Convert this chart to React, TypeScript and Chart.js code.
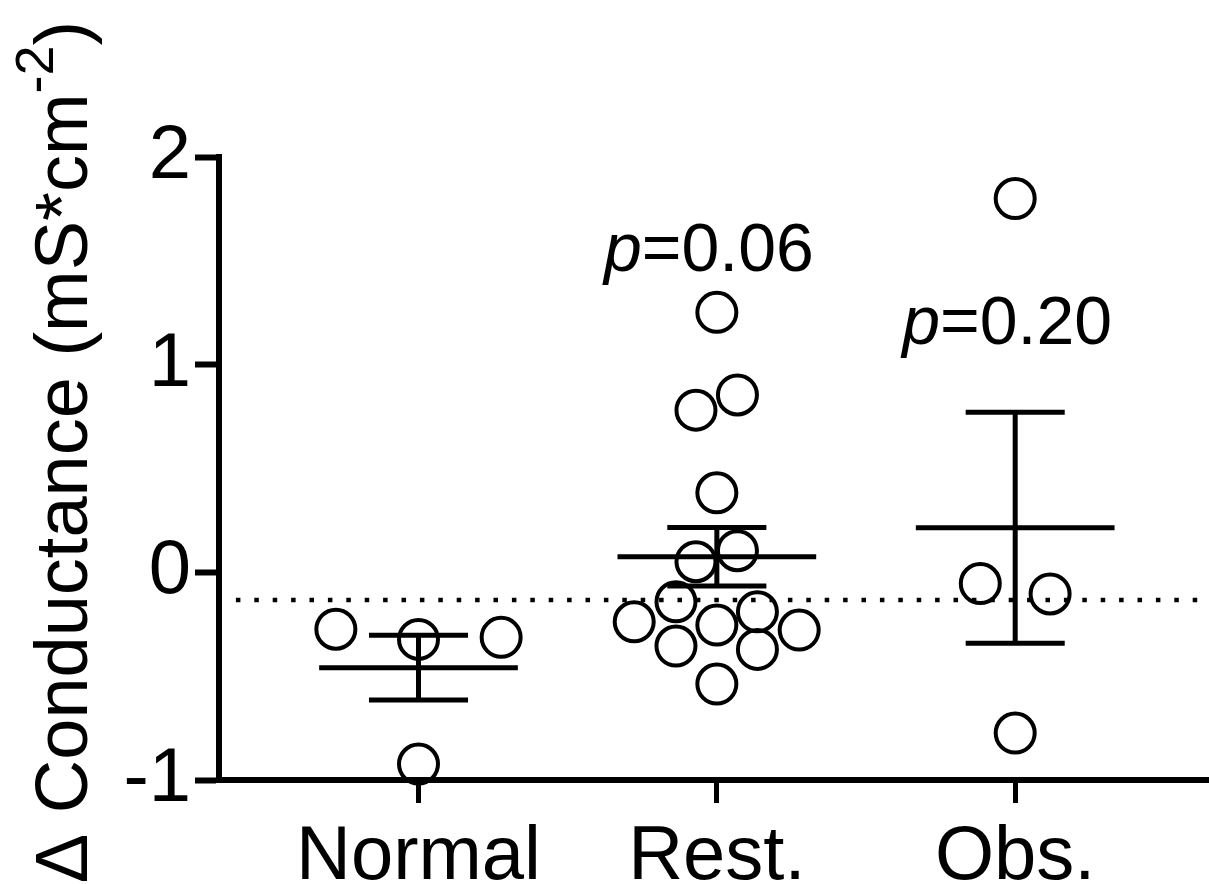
import React, { useEffect, useRef } from 'react';
import { Chart, registerables } from 'chart.js';

Chart.register(...registerables);

// ---- data ----
const categories = ['Normal', 'Rest.', 'Obs.'];
const normalValues = [-0.274, -0.323, -0.313, -0.923];
const normalJitter = [-0.277, 0, 0.277, 0];
const restValues = [1.252, 0.781, 0.854, 0.383, 0.104, 0.051, -0.142, -0.238, -0.254, -0.19, -0.278, -0.355, -0.371, -0.538];
const restJitter = [0, -0.07, 0.069, 0, 0.069, -0.07, -0.137, -0.277, 0, 0.136, 0.276, -0.137, 0.136, 0];
const obsValues = [1.8, -0.054, -0.104, -0.774];
const obsJitter = [0, -0.117, 0.117, 0];
const groupMeans = [-0.459, 0.075, 0.215];
const groupSEM = [0.156, 0.141, 0.556];
const pValues = ['', '0.06', '0.20'];
const pLabelLevels = [0, 1.452, 1.101];
const referenceLevel = -0.133;
const yTickValues = [-1, 0, 1, 2];
const yTitleMain = 'Δ Conductance (mS*cm';
const yTitleSup = '-2';
const yTitleEnd = ')';

const FONT = '"Liberation Sans", Arial, Helvetica, sans-serif';

const toPoints = (vals: number[], jit: number[], idx: number) =>
  vals.map((v, i) => ({ x: idx + jit[i], y: v }));

const decorPlugin = {
  id: 'decor',
  beforeDatasetsDraw(chart: any) {
    const { ctx, scales } = chart;
    const xs = scales.x;
    const ys = scales.y;
    // dotted reference line
    ctx.save();
    ctx.strokeStyle = '#000';
    ctx.lineWidth = 4.5;
    ctx.setLineDash([4.5, 13.9]);
    const yp = ys.getPixelForValue(referenceLevel);
    ctx.beginPath();
    ctx.moveTo(xs.getPixelForValue(-0.612), yp);
    ctx.lineTo(xs.getPixelForValue(xs.max) - 6, yp);
    ctx.stroke();
    ctx.restore();
  },
  afterDatasetsDraw(chart: any) {
    const { ctx, scales } = chart;
    const xs = scales.x;
    const ys = scales.y;
    ctx.save();
    ctx.strokeStyle = '#000';
    ctx.lineWidth = 5;
    ctx.lineCap = 'butt';
    groupMeans.forEach((m, i) => {
      const s = groupSEM[i];
      const cx = xs.getPixelForValue(i);
      const yMean = ys.getPixelForValue(m);
      const yHi = ys.getPixelForValue(m + s);
      const yLo = ys.getPixelForValue(m - s);
      ctx.beginPath();
      ctx.moveTo(xs.getPixelForValue(i - 0.333), yMean);
      ctx.lineTo(xs.getPixelForValue(i + 0.333), yMean);
      ctx.moveTo(cx, yHi);
      ctx.lineTo(cx, yLo);
      ctx.moveTo(xs.getPixelForValue(i - 0.166), yHi);
      ctx.lineTo(xs.getPixelForValue(i + 0.166), yHi);
      ctx.moveTo(xs.getPixelForValue(i - 0.166), yLo);
      ctx.lineTo(xs.getPixelForValue(i + 0.166), yLo);
      ctx.stroke();
    });
    // p-value annotations
    ctx.fillStyle = '#000';
    ctx.textBaseline = 'alphabetic';
    ctx.textAlign = 'left';
    pValues.forEach((pv, i) => {
      if (!pv) return;
      const italic = `italic 68px ${FONT}`;
      const normal = `68px ${FONT}`;
      ctx.font = italic;
      const wp = ctx.measureText('p').width;
      ctx.font = normal;
      const rest = '=' + pv;
      const wr = ctx.measureText(rest).width;
      const total = wp + wr;
      const cx = xs.getPixelForValue(i) - 8;
      const y = ys.getPixelForValue(pLabelLevels[i]);
      const x0 = cx - total / 2;
      ctx.font = italic;
      ctx.fillText('p', x0, y);
      ctx.font = normal;
      ctx.fillText(rest, x0 + wp, y);
    });
    ctx.restore();
  },
  afterDraw(chart: any) {
    const { ctx } = chart;
    ctx.save();
    ctx.fillStyle = '#000';
    ctx.textBaseline = 'alphabetic';
    ctx.textAlign = 'left';
    const mainFont = `74px ${FONT}`;
    const supFont = `54px ${FONT}`;
    ctx.font = mainFont;
    const wMain = ctx.measureText(yTitleMain).width;
    const wEnd = ctx.measureText(yTitleEnd).width;
    ctx.font = supFont;
    const wSup = ctx.measureText(yTitleSup).width;
    const total = wMain + wSup + wEnd;
    ctx.translate(87, 452);
    ctx.rotate(-Math.PI / 2);
    const x0 = -total / 2;
    ctx.font = mainFont;
    ctx.fillText(yTitleMain, x0, 0);
    ctx.font = supFont;
    ctx.fillText(yTitleSup, x0 + wMain, -34);
    ctx.font = mainFont;
    ctx.fillText(yTitleEnd, x0 + wMain + wSup, 0);
    ctx.restore();
  },
};

export default function App() {
  const ref = useRef<HTMLCanvasElement | null>(null);

  useEffect(() => {
    if (!ref.current) return;
    const pointStyle = {
      pointRadius: 19.5,
      pointHoverRadius: 19.5,
      pointBorderWidth: 4,
      pointBackgroundColor: 'rgba(0,0,0,0)',
      pointBorderColor: '#000',
      showLine: false,
      clip: false as any,
    };
    const chart = new Chart(ref.current, {
      type: 'scatter',
      data: {
        datasets: [
          { label: categories[0], data: toPoints(normalValues, normalJitter, 0), ...pointStyle },
          { label: categories[1], data: toPoints(restValues, restJitter, 1), ...pointStyle },
          { label: categories[2], data: toPoints(obsValues, obsJitter, 2), ...pointStyle },
        ],
      },
      options: {
        responsive: false,
        devicePixelRatio: 1,
        animation: false,
        events: [],
        layout: { autoPadding: false, padding: { top: 157, left: 0, right: 0, bottom: 0 } },
        plugins: {
          legend: { display: false },
          tooltip: { enabled: false },
        },
        scales: {
          x: {
            type: 'linear',
            min: -0.6687,
            max: 2.6496,
            afterBuildTicks: (scale: any) => {
              scale.ticks = categories.map((_, i) => ({ value: i }));
            },
            afterFit: (scale: any) => {
              scale.height = 104;
              scale.paddingLeft = 0;
              scale.paddingRight = 0;
            },
            ticks: {
              callback: (v: any) => categories[Math.round(Number(v))] ?? '',
              color: '#000',
              font: { family: FONT, size: 76 },
              padding: 9,
              maxRotation: 0,
              autoSkip: false,
            },
            grid: {
              display: true,
              drawOnChartArea: false,
              drawTicks: true,
              tickLength: 23,
              tickWidth: 5,
              tickColor: '#000',
            },
            border: { display: true, color: '#000', width: 6 },
          },
          y: {
            type: 'linear',
            min: -1,
            max: 2,
            afterBuildTicks: (scale: any) => {
              scale.ticks = yTickValues.map((v) => ({ value: v }));
            },
            afterFit: (scale: any) => {
              scale.width = 219;
              scale.paddingTop = 0;
              scale.paddingBottom = 0;
            },
            ticks: {
              callback: (v: any) => String(v),
              color: '#000',
              font: { family: FONT, size: 76 },
              padding: 4,
            },
            grid: {
              display: true,
              drawOnChartArea: false,
              drawTicks: true,
              tickLength: 24,
              tickWidth: 6,
              tickColor: '#000',
            },
            border: { display: true, color: '#000', width: 6 },
          },
        },
      },
      plugins: [decorPlugin],
    });
    return () => chart.destroy();
  }, []);

  return (
    <div style={{ position: 'fixed', left: 0, top: 0, width: 1209, height: 884, background: '#fff' }}>
      <canvas ref={ref} width={1209} height={884} style={{ display: 'block' }} />
    </div>
  );
}
